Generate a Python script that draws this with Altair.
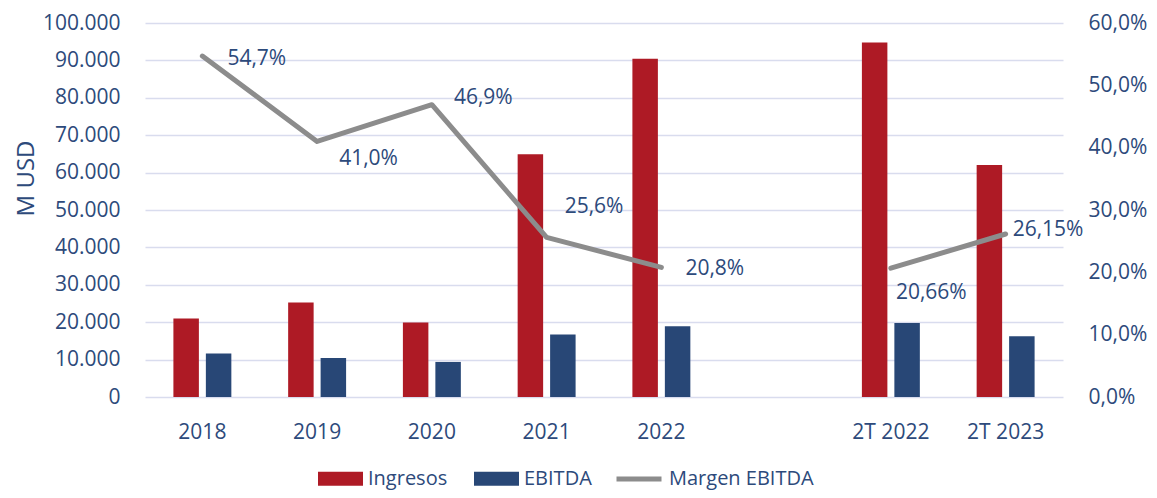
import altair as alt
import pandas as pd

# ---- data ----
categories = ["2018", "2019", "2020", "2021", "2022", "2T 2022", "2T 2023"]
axis_domain = ["2018", "2019", "2020", "2021", "2022", " ", "2T 2022", "2T 2023"]
ingresos = [21000, 25300, 19950, 64900, 90450, 94800, 62000]
ebitda = [11600, 10450, 9380, 16730, 18950, 19760, 16270]
margen = [0.547, 0.410, 0.469, 0.256, 0.208, 0.2066, 0.2615]
margen_labels = ["54,7%", "41,0%", "46,9%", "25,6%", "20,8%", "20,66%", "26,15%"]
tramo = ["Anual", "Anual", "Anual", "Anual", "Anual", "Semestral", "Semestral"]
series_bars = ["Ingresos", "EBITDA"]
series_line = ["Margen EBITDA"]

# ---- styles ----
RED = "#AE1A25"
NAVY = "#284776"
TEXT = "#2D4A7B"
GRAY = "#8C8C8C"
GRID = "#D9DCEE"
FONT = "Open Sans"

bars_df = pd.DataFrame(
    [{"Cat": c, "Serie": "Ingresos", "Valor": v} for c, v in zip(categories, ingresos)]
    + [{"Cat": c, "Serie": "EBITDA", "Valor": v} for c, v in zip(categories, ebitda)]
)
line_df = pd.DataFrame({
    "Cat": categories,
    "Margen": margen,
    "Etiqueta": margen_labels,
    "Tramo": tramo,
    "Serie": series_line[0],
})

x_enc = alt.X(
    "Cat:N",
    scale=alt.Scale(domain=axis_domain, paddingInner=0.495, paddingOuter=0.2475),
    sort=axis_domain,
    axis=alt.Axis(title=None, labelPadding=24, domain=False, ticks=False,
                  labelAngle=0, labelFontSize=21),
)

bars = alt.Chart(bars_df).mark_bar().encode(
    x=x_enc,
    xOffset=alt.XOffset("Serie:N", sort=series_bars,
                        scale=alt.Scale(domain=series_bars, paddingInner=0.215, paddingOuter=0)),
    y=alt.Y("Valor:Q",
            scale=alt.Scale(domain=[0, 100000], nice=False),
            axis=alt.Axis(title="M USD", values=list(range(0, 100001, 10000)),
                          labelExpr="replace(format(datum.value, ',d'), ',', '.')",
                          grid=True, gridColor=GRID, gridWidth=1.5,
                          domain=False, ticks=False, labelPadding=25,
                          titleFontSize=24, titleFontWeight="normal",
                          titleAngle=270, titleAlign="center", titleBaseline="middle",
                          titleX=-119, titleY=155)),
    fill=alt.Fill("Serie:N",
                  scale=alt.Scale(domain=series_bars, range=[RED, NAVY]),
                  legend=alt.Legend(title=None, orient="none", legendX=173, legendY=433,
                                    direction="horizontal", symbolType="M-1,-0.31H1V0.31H-1Z",
                                    symbolSize=2025, symbolStrokeWidth=0, labelFontSize=20,
                                    labelOffset=5, columnPadding=26, padding=0)),
)

y_right = alt.Y("Margen:Q",
                scale=alt.Scale(domain=[0, 0.6], nice=False),
                axis=alt.Axis(title=None, orient="right", values=[0, 0.1, 0.2, 0.3, 0.4, 0.5, 0.6],
                              labelExpr="replace(format(datum.value, '.1%'), '.', ',')",
                              grid=False, domain=False, ticks=False, labelPadding=25))

line = alt.Chart(line_df).mark_line(strokeWidth=5, strokeCap="round", strokeJoin="round").encode(
    x=x_enc,
    y=y_right,
    detail="Tramo:N",
    stroke=alt.Stroke("Serie:N",
                      scale=alt.Scale(domain=series_line, range=[GRAY]),
                      legend=alt.Legend(title=None, orient="none", legendX=469, legendY=431,
                                        symbolType="stroke", symbolSize=2025,
                                        symbolStrokeWidth=5, labelFontSize=20,
                                        labelOffset=5, padding=0)),
)

label_offsets = {
    "2018": (25, 3),
    "2019": (22, 18),
    "2020": (22, -7),
    "2021": (18, -30),
    "2022": (24, 2),
    "2T 2022": (5, 25),
    "2T 2023": (7, -4),
}

label_layers = []
for cat, (ddx, ddy) in label_offsets.items():
    label_layers.append(
        alt.Chart(line_df).transform_filter(alt.datum.Cat == cat)
        .mark_text(align="left", baseline="middle", dx=ddx, dy=ddy,
                   fontSize=21, color=TEXT, font=FONT)
        .encode(x=x_enc, y=y_right, text="Etiqueta:N")
    )

right = alt.layer(line, *label_layers)

chart = (
    alt.layer(bars, right)
    .resolve_scale(y="independent", fill="independent", stroke="independent")
    .properties(width=918, height=374,
                padding={"left": 137, "top": 15, "right": 86, "bottom": 93},
                autosize=alt.AutoSizeParams(type="none"))
    .configure_view(stroke=None)
    .configure_axis(labelFont=FONT, titleFont=FONT, labelColor=TEXT, titleColor=TEXT,
                    labelFontSize=21)
    .configure_legend(labelFont=FONT, labelColor=TEXT)
    .configure_text(font=FONT)
)

chart.save("out.html", embed_options={"renderer": "svg", "actions": False})
